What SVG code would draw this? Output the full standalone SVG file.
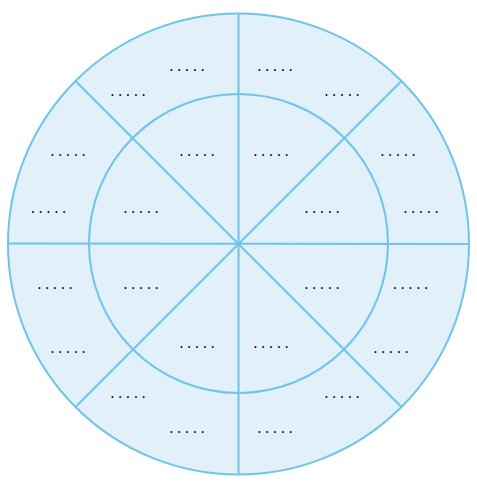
<svg xmlns="http://www.w3.org/2000/svg" width="477" height="484" viewBox="0 0 477 484">
<style>
.c{fill:#e1f0f9;stroke:#6ec4ea;stroke-width:2}
.l{stroke:#6ec4ea;stroke-width:2;fill:none}
.t{font-family:"Liberation Mono",monospace;font-size:13px;fill:#000;text-anchor:middle}
</style>
<rect width="477" height="484" fill="#fff"/>
<g id="outer"><circle class="c" cx="238.5" cy="244" r="230.5"/></g>
<g id="inner"><circle class="c" cx="238.5" cy="243.5" r="149.5"/></g>
<g id="connectors">
<line class="l" x1="238.5" y1="13.5" x2="238.5" y2="474.5"/>
<line class="l" x1="8" y1="243.5" x2="469" y2="244"/>
<line class="l" x1="75.5" y1="81" x2="401.5" y2="407"/>
<line class="l" x1="401.5" y1="81" x2="75.5" y2="407"/>
</g>
<g id="labels">
<text class="t" x="187" y="71">.....</text>
<text class="t" x="275" y="71">.....</text>
<text class="t" x="128" y="96">.....</text>
<text class="t" x="342" y="96">.....</text>
<text class="t" x="68" y="156">.....</text>
<text class="t" x="197" y="156">.....</text>
<text class="t" x="271" y="156">.....</text>
<text class="t" x="398" y="156">.....</text>
<text class="t" x="48.5" y="213">.....</text>
<text class="t" x="141" y="213">.....</text>
<text class="t" x="322" y="213">.....</text>
<text class="t" x="421" y="213">.....</text>
<text class="t" x="55" y="289">.....</text>
<text class="t" x="141" y="289">.....</text>
<text class="t" x="322" y="289">.....</text>
<text class="t" x="410.5" y="289">.....</text>
<text class="t" x="68" y="353">.....</text>
<text class="t" x="197" y="348">.....</text>
<text class="t" x="271" y="348">.....</text>
<text class="t" x="391" y="353">.....</text>
<text class="t" x="128" y="398">.....</text>
<text class="t" x="342" y="398">.....</text>
<text class="t" x="187" y="433">.....</text>
<text class="t" x="275" y="433">.....</text>
</g>
</svg>
